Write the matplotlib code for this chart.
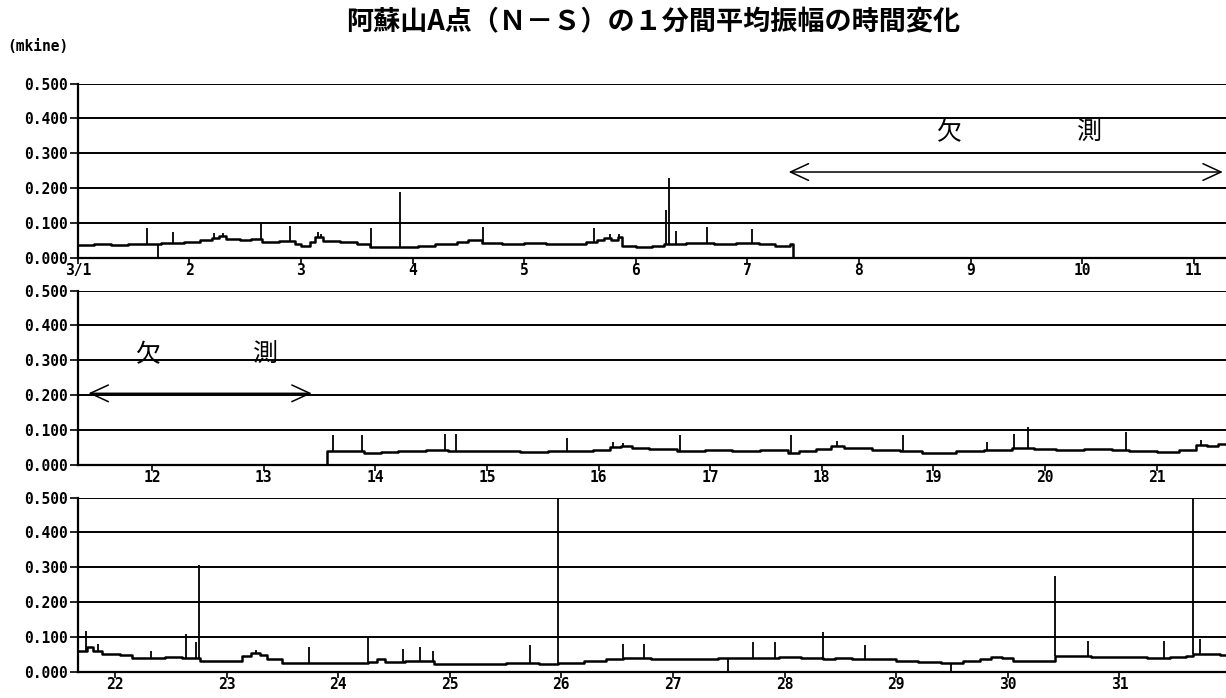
import numpy as np
import matplotlib
matplotlib.use('Agg')
import matplotlib.pyplot as plt

plt.rcParams['font.family'] = ['Noto Sans CJK JP', 'DejaVu Sans']

# ---------------- data ----------------
title = '阿蘇山A点（Ｎ－Ｓ）の１分間平均振幅の時間変化'
unit_label = '(mkine)'
missing_chars = ['欠', '測']

yticks = [0.0, 0.1, 0.2, 0.3, 0.4, 0.5]
ytick_labels = ['0.000', '0.100', '0.200', '0.300', '0.400', '0.500']

panel_ticks = [list(range(1, 12)), list(range(12, 22)), list(range(22, 32))]
panel_tick_labels = [['3/1'] + [str(d) for d in range(2, 12)],
                     [str(d) for d in range(12, 22)],
                     [str(d) for d in range(22, 32)]]

# segment A: 3/1 00:00 to 3/7 ~10h (level change points, day of March)
seg_a_t = [1.00, 1.15, 1.30, 1.45, 1.60, 1.75, 1.95, 2.10, 2.20, 2.27, 2.33, 2.45,
           2.55, 2.65, 2.80, 2.95, 3.00, 3.08, 3.13, 3.20, 3.35, 3.50, 3.62, 3.90,
           4.05, 4.20, 4.40, 4.50, 4.62, 4.80, 5.00, 5.20, 5.40, 5.55, 5.65, 5.72,
           5.78, 5.84, 5.88, 6.00, 6.15, 6.25, 6.45, 6.70, 6.90, 7.10, 7.25, 7.38]
seg_a_v = [0.036, 0.038, 0.036, 0.038, 0.040, 0.043, 0.045, 0.050, 0.058, 0.062, 0.055, 0.050,
           0.053, 0.046, 0.048, 0.040, 0.033, 0.045, 0.060, 0.048, 0.045, 0.040, 0.030, 0.032,
           0.035, 0.038, 0.045, 0.050, 0.042, 0.040, 0.042, 0.038, 0.040, 0.045, 0.050, 0.058,
           0.052, 0.060, 0.035, 0.032, 0.035, 0.040, 0.042, 0.040, 0.042, 0.038, 0.035, 0.040]
seg_a_end = 7.41

# segment B: 3/13 ~14h to end of month
seg_b_start = 13.57
seg_b_t = [13.57, 13.75, 13.90, 14.05, 14.20, 14.45, 14.65, 14.90, 15.10, 15.30, 15.55, 15.75,
           15.95, 16.10, 16.20, 16.30, 16.45, 16.70, 16.95, 17.20, 17.45, 17.70, 17.80, 17.95,
           18.08, 18.20, 18.45, 18.70, 18.90, 19.20, 19.45, 19.70, 19.90, 20.10, 20.35, 20.60,
           20.75, 21.00, 21.20, 21.35, 21.45, 21.55, 21.68, 21.75, 21.80, 21.88, 22.05, 22.15,
           22.30, 22.45, 22.60, 22.76, 23.00, 23.14, 23.22, 23.30, 23.36, 23.50, 23.80, 24.00,
           24.27, 24.35, 24.42, 24.60, 24.86, 25.20, 25.50, 25.80, 25.97, 26.20, 26.40, 26.55,
           26.80, 27.00, 27.20, 27.40, 27.50, 27.70, 27.95, 28.15, 28.34, 28.45, 28.60, 28.80,
           29.00, 29.20, 29.40, 29.60, 29.75, 29.85, 29.95, 30.05, 30.25, 30.42, 30.55, 30.75,
           31.00, 31.25, 31.45, 31.60, 31.66, 31.75, 31.90, 32.00]
seg_b_v = [0.040, 0.038, 0.033, 0.036, 0.040, 0.042, 0.040, 0.038, 0.040, 0.036, 0.040, 0.038,
           0.042, 0.050, 0.055, 0.048, 0.044, 0.040, 0.042, 0.040, 0.042, 0.035, 0.040, 0.045,
           0.055, 0.048, 0.042, 0.040, 0.035, 0.038, 0.042, 0.048, 0.045, 0.043, 0.045, 0.042,
           0.038, 0.036, 0.042, 0.058, 0.055, 0.060, 0.060, 0.070, 0.060, 0.052, 0.048, 0.038,
           0.040, 0.043, 0.040, 0.030, 0.032, 0.045, 0.055, 0.048, 0.036, 0.025, 0.024, 0.026,
           0.028, 0.035, 0.028, 0.030, 0.023, 0.022, 0.024, 0.022, 0.025, 0.030, 0.035, 0.040,
           0.037, 0.036, 0.035, 0.038, 0.038, 0.040, 0.042, 0.040, 0.035, 0.038, 0.036, 0.035,
           0.030, 0.027, 0.025, 0.030, 0.037, 0.042, 0.040, 0.032, 0.030, 0.045, 0.046, 0.042,
           0.042, 0.040, 0.042, 0.045, 0.052, 0.050, 0.048, 0.048]

# isolated one-minute spikes / drop-outs
spike_t = [1.62, 1.72, 1.85, 2.22, 2.30, 2.64, 2.90, 3.15, 3.18, 3.63, 3.89, 4.63,
           5.63, 5.77, 5.85, 6.27, 6.30, 6.36, 6.64, 7.04,
           13.62, 13.88, 14.62, 14.72, 15.72, 16.13, 16.22, 16.73, 17.72, 18.14, 18.73,
           19.48, 19.72, 19.85, 20.73, 21.40,
           21.74, 21.85, 22.32, 22.64, 22.73, 22.755, 23.26, 23.74, 24.27, 24.58, 24.73,
           24.85, 25.72, 25.97, 26.55, 26.74, 27.49, 27.72, 27.91, 28.34, 28.72, 29.49,
           30.42, 30.72, 31.40, 31.66, 31.72]
spike_v = [0.085, 0.0, 0.073, 0.070, 0.072, 0.100, 0.092, 0.075, 0.068, 0.085, 0.190, 0.088,
           0.085, 0.068, 0.068, 0.136, 0.228, 0.078, 0.087, 0.083,
           0.084, 0.084, 0.089, 0.089, 0.076, 0.065, 0.062, 0.086, 0.084, 0.068, 0.085,
           0.065, 0.089, 0.108, 0.094, 0.072,
           0.118, 0.080, 0.060, 0.107, 0.085, 0.307, 0.062, 0.070, 0.097, 0.065, 0.070,
           0.060, 0.077, 0.550, 0.080, 0.080, 0.0, 0.085, 0.085, 0.113, 0.077, 0.0,
           0.276, 0.087, 0.088, 0.550, 0.095]

# "missing data" annotations: (arrow start, arrow end, arrow y, char1 x, char2 x, text y)
missing_a = (7.37, 11.26, 0.246, 8.80, 10.07, 0.357)
missing_b = (11.43, 13.43, 0.205, 11.96, 13.02, 0.314)

# ---------------- drawing ----------------
fig = plt.figure(figsize=(12.26, 6.98), dpi=100)

left = 77.7 / 1226
width = (1231 - 77.7) / 1226
bottoms = [0.6308, 0.3342, 0.0377]
height = 0.2495
span = 31 / 3

mono = 'DejaVu Sans Mono'

ta = np.array(seg_a_t + [seg_a_end, seg_a_end])
va = np.array(seg_a_v + [seg_a_v[-1], 0.0])
tb = np.array([seg_b_start] + seg_b_t)
vb = np.array([0.0] + seg_b_v)

st = np.array(spike_t)
sv = np.array(spike_v)
all_t = np.array(seg_a_t + seg_b_t)
all_v = np.array(seg_a_v + seg_b_v)
idx = np.searchsorted(all_t, st, side='right') - 1
base = all_v[idx]

axes = []
for k in range(3):
    ax = fig.add_axes([left, bottoms[k], width, height])
    axes.append(ax)
    x0 = 1 + k * span
    ax.set_xlim(x0, x0 + span)
    ax.set_ylim(0, 0.5)
    for y in yticks[1:]:
        ax.axhline(y, color='black', lw=1.4, zorder=1)
    ax.plot(ta, va, drawstyle='steps-post', color='black', lw=1.8, zorder=3)
    ax.plot(tb, vb, drawstyle='steps-post', color='black', lw=1.8, zorder=3)
    ax.vlines(st, base, sv, color='black', lw=1.3, zorder=3)

    for s in ['top', 'right']:
        ax.spines[s].set_visible(False)
    for s in ['left', 'bottom']:
        ax.spines[s].set_linewidth(1.6)
        ax.spines[s].set_color('black')
    ax.set_yticks(yticks)
    ax.set_yticklabels(ytick_labels, family=mono, fontsize=10.5, fontweight='bold')
    ax.set_xticks(panel_ticks[k])
    ax.set_xticklabels(panel_tick_labels[k], family=mono, fontsize=10.5, fontweight='bold')
    ax.tick_params(axis='y', direction='out', length=6, width=1.2, pad=1)
    ax.tick_params(axis='x', direction='out', length=4, width=1.2, pad=0)

for ax, m in [(axes[0], missing_a), (axes[1], missing_b)]:
    a0, a1, ay, c1, c2, ty = m
    ax.annotate('', xy=(a0, ay), xytext=(a1, ay),
                arrowprops=dict(arrowstyle='<->,head_length=0.65,head_width=0.3',
                                color='black', lw=1.1, mutation_scale=20,
                                shrinkA=0, shrinkB=0))
    ax.text(c1, ty, missing_chars[0], ha='center', va='center', fontsize=18)
    ax.text(c2, ty, missing_chars[1], ha='center', va='center', fontsize=18)

fig.text(0.533, 0.968, title, ha='center', va='center', fontsize=19.5, fontweight='bold')
fig.text(0.006, 0.934, unit_label, ha='left', va='center', family=mono,
         fontsize=10.5, fontweight='bold')

fig.savefig('out.png', dpi=100)
